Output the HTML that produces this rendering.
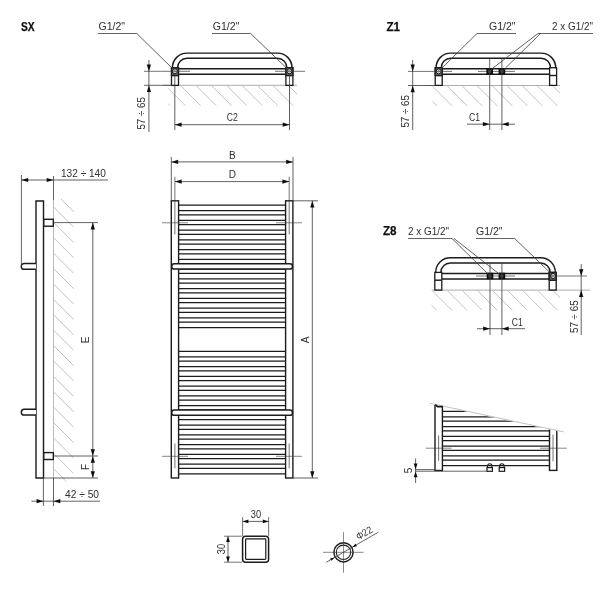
<!DOCTYPE html>
<html><head><meta charset="utf-8"><title>drawing</title>
<style>
html,body{margin:0;padding:0;background:#fff;}
body{width:616px;height:616px;overflow:hidden;font-family:"Liberation Sans",sans-serif;}
svg{display:block;font-family:"Liberation Sans",sans-serif;}
</style></head><body>
<svg width="616" height="616" viewBox="0 0 616 616">
<rect width="616" height="616" fill="#fff"/>
<defs><filter id="bl" x="0" y="0" width="616" height="616" filterUnits="userSpaceOnUse"><feGaussianBlur stdDeviation="0.35"/></filter></defs>
<g filter="url(#bl)">
<clipPath id="h1"><rect x="168.3" y="85.8" width="128.7" height="20.0"/></clipPath>
<g clip-path="url(#h1)" stroke="#b4b4b4" stroke-width="0.8">
<line x1="134.70" y1="85.8" x2="154.70" y2="105.8"/>
<line x1="150.10" y1="85.8" x2="170.10" y2="105.8"/>
<line x1="165.50" y1="85.8" x2="185.50" y2="105.8"/>
<line x1="180.90" y1="85.8" x2="200.90" y2="105.8"/>
<line x1="196.30" y1="85.8" x2="216.30" y2="105.8"/>
<line x1="211.70" y1="85.8" x2="231.70" y2="105.8"/>
<line x1="227.10" y1="85.8" x2="247.10" y2="105.8"/>
<line x1="242.50" y1="85.8" x2="262.50" y2="105.8"/>
<line x1="257.90" y1="85.8" x2="277.90" y2="105.8"/>
<line x1="273.30" y1="85.8" x2="293.30" y2="105.8"/>
<line x1="288.70" y1="85.8" x2="308.70" y2="105.8"/>
</g>
<line x1="163" y1="85.3" x2="297" y2="85.3" stroke="#999" stroke-width="0.8" />
<path d="M172.4,68.2 V67.7 A14.6,14.6 0 0 1 187.0,53.1 H277.4 A14.6,14.6 0 0 1 292.0,67.7 V68.2" fill="none" stroke="#1c1c1c" stroke-width="1.45"/>
<path d="M177.60000000000002,68.2 V67.7 A9.4,9.4 0 0 1 187.00000000000003,58.300000000000004 H277.4000000000001 A9.4,9.4 0 0 1 286.80000000000007,67.7 V68.2" fill="none" stroke="#1c1c1c" stroke-width="1.45"/>
<line x1="178.70000000000002" y1="68.8" x2="285.70000000000005" y2="68.8" stroke="#1c1c1c" stroke-width="1.45" />
<line x1="178.70000000000002" y1="74.2" x2="285.70000000000005" y2="74.2" stroke="#1c1c1c" stroke-width="1.45" />
<rect x="171.5" y="67.7" width="7.0" height="17.7" fill="none" stroke="#1c1c1c" stroke-width="1.3" rx="0"/>
<line x1="171.5" y1="75.5" x2="178.50000000000003" y2="75.5" stroke="#1c1c1c" stroke-width="1.45" />
<rect x="285.90000000000003" y="67.7" width="7.0" height="17.7" fill="none" stroke="#1c1c1c" stroke-width="1.3" rx="0"/>
<line x1="285.90000000000003" y1="75.5" x2="292.90000000000003" y2="75.5" stroke="#1c1c1c" stroke-width="1.45" />
<rect x="171.5" y="67.7" width="7.0" height="7.8" fill="#6a6a6a" stroke="#1c1c1c" stroke-width="1.3"/>
<circle cx="174.9" cy="71.3" r="2.5" fill="#e0e0e0" stroke="#111" stroke-width="1"/>
<circle cx="174.9" cy="71.3" r="0.9" fill="#fff" stroke="#666" stroke-width="0.5"/>
<rect x="285.90000000000003" y="67.7" width="7.0" height="7.8" fill="#6a6a6a" stroke="#1c1c1c" stroke-width="1.3"/>
<circle cx="289.4" cy="71.3" r="2.5" fill="#e0e0e0" stroke="#111" stroke-width="1"/>
<circle cx="289.4" cy="71.3" r="0.9" fill="#fff" stroke="#666" stroke-width="0.5"/>
<line x1="144" y1="71.3" x2="190" y2="71.3" stroke="#3a3a3a" stroke-width="0.7" />
<line x1="275" y1="71.3" x2="305" y2="71.3" stroke="#3a3a3a" stroke-width="0.7" />
<polyline points="98,33.5 136.8,33.5 172.5,68.5" fill="none" stroke="#3a3a3a" stroke-width="0.8"/>
<polyline points="212,33.5 250.6,33.5 287,68.5" fill="none" stroke="#3a3a3a" stroke-width="0.8"/>
<text x="98.5" y="29.8" font-size="10" text-anchor="start" fill="#2e2e2e" textLength="26.6" lengthAdjust="spacingAndGlyphs">G1/2"</text>
<text x="212.8" y="29.8" font-size="10" text-anchor="start" fill="#2e2e2e" textLength="26.6" lengthAdjust="spacingAndGlyphs">G1/2"</text>
<text x="21" y="30.5" font-size="12" text-anchor="start" fill="#111" font-weight="bold" stroke="#111" stroke-width="0.25" textLength="13.6" lengthAdjust="spacingAndGlyphs">SX</text>
<line x1="148.9" y1="60" x2="148.9" y2="132" stroke="#3a3a3a" stroke-width="0.8" />
<line x1="144" y1="85.3" x2="172" y2="85.3" stroke="#3a3a3a" stroke-width="0.8" />
<polygon points="148.9,71.3 146.8,64.5 151.0,64.5" fill="#111"/>
<polygon points="148.9,85.3 146.8,92.1 151.0,92.1" fill="#111"/>
<text x="145.4" y="129.6" font-size="10" text-anchor="start" fill="#2e2e2e" transform="rotate(-90 145.4 129.6)" textLength="32.6" lengthAdjust="spacingAndGlyphs">57 ÷ 65</text>
<line x1="174.8" y1="76" x2="174.8" y2="130" stroke="#3a3a3a" stroke-width="0.8" />
<line x1="289.5" y1="76" x2="289.5" y2="130" stroke="#3a3a3a" stroke-width="0.8" />
<line x1="174.8" y1="124.7" x2="289.5" y2="124.7" stroke="#3a3a3a" stroke-width="0.8" />
<polygon points="174.8,124.7 181.60000000000002,122.60000000000001 181.60000000000002,126.8" fill="#111"/>
<polygon points="289.5,124.7 282.7,122.60000000000001 282.7,126.8" fill="#111"/>
<text x="232.2" y="120.7" font-size="10" text-anchor="middle" fill="#2e2e2e" textLength="11" lengthAdjust="spacingAndGlyphs">C2</text>
<clipPath id="h2"><rect x="432.5" y="86.0" width="127.5" height="20.0"/></clipPath>
<g clip-path="url(#h2)" stroke="#b4b4b4" stroke-width="0.8">
<line x1="402.15" y1="86.0" x2="422.15" y2="106.0"/>
<line x1="417.20" y1="86.0" x2="437.20" y2="106.0"/>
<line x1="432.25" y1="86.0" x2="452.25" y2="106.0"/>
<line x1="447.30" y1="86.0" x2="467.30" y2="106.0"/>
<line x1="462.35" y1="86.0" x2="482.35" y2="106.0"/>
<line x1="477.40" y1="86.0" x2="497.40" y2="106.0"/>
<line x1="492.45" y1="86.0" x2="512.45" y2="106.0"/>
<line x1="507.50" y1="86.0" x2="527.50" y2="106.0"/>
<line x1="522.55" y1="86.0" x2="542.55" y2="106.0"/>
<line x1="537.60" y1="86.0" x2="557.60" y2="106.0"/>
<line x1="552.65" y1="86.0" x2="572.65" y2="106.0"/>
</g>
<line x1="427" y1="85.5" x2="560" y2="85.5" stroke="#999" stroke-width="0.8" />
<path d="M436.1,68.2 V67.7 A14.6,14.6 0 0 1 450.70000000000005,53.1 H541.0999999999999 A14.6,14.6 0 0 1 555.6999999999999,67.7 V68.2" fill="none" stroke="#1c1c1c" stroke-width="1.45"/>
<path d="M441.29999999999995,68.2 V67.7 A9.4,9.4 0 0 1 450.69999999999993,58.300000000000004 H541.1 A9.4,9.4 0 0 1 550.5,67.7 V68.2" fill="none" stroke="#1c1c1c" stroke-width="1.45"/>
<line x1="442.4" y1="68.8" x2="549.4" y2="68.8" stroke="#1c1c1c" stroke-width="1.45" />
<line x1="442.4" y1="74.2" x2="549.4" y2="74.2" stroke="#1c1c1c" stroke-width="1.45" />
<rect x="435.2" y="67.7" width="7.0" height="17.7" fill="none" stroke="#1c1c1c" stroke-width="1.3" rx="0"/>
<line x1="435.2" y1="75.5" x2="442.2" y2="75.5" stroke="#1c1c1c" stroke-width="1.45" />
<rect x="549.6" y="67.7" width="7.0" height="17.7" fill="none" stroke="#1c1c1c" stroke-width="1.3" rx="0"/>
<line x1="549.6" y1="75.5" x2="556.5999999999999" y2="75.5" stroke="#1c1c1c" stroke-width="1.45" />
<rect x="435.2" y="67.7" width="7.0" height="7.8" fill="#6a6a6a" stroke="#1c1c1c" stroke-width="1.3"/>
<circle cx="438.7" cy="71.4" r="2.5" fill="#e0e0e0" stroke="#111" stroke-width="1"/>
<circle cx="438.7" cy="71.4" r="0.9" fill="#fff" stroke="#666" stroke-width="0.5"/>
<line x1="408" y1="71.4" x2="452" y2="71.4" stroke="#3a3a3a" stroke-width="0.7" />
<line x1="478" y1="71.4" x2="515" y2="71.4" stroke="#3a3a3a" stroke-width="0.7" />
<rect x="487.3" y="69.0" width="4.8" height="4.8" fill="#444" stroke="#111" stroke-width="1.8" rx="0"/>
<line x1="489.7" y1="58.5" x2="489.7" y2="130" stroke="#3a3a3a" stroke-width="0.8" />
<rect x="499.5" y="69.0" width="4.8" height="4.8" fill="#444" stroke="#111" stroke-width="1.8" rx="0"/>
<line x1="501.9" y1="58.5" x2="501.9" y2="130" stroke="#3a3a3a" stroke-width="0.8" />
<line x1="412.7" y1="60" x2="412.7" y2="130" stroke="#3a3a3a" stroke-width="0.8" />
<line x1="408" y1="85.5" x2="436" y2="85.5" stroke="#3a3a3a" stroke-width="0.8" />
<polygon points="412.7,71.4 410.59999999999997,64.60000000000001 414.8,64.60000000000001" fill="#111"/>
<polygon points="412.7,85.5 410.59999999999997,92.3 414.8,92.3" fill="#111"/>
<text x="409.2" y="127.6" font-size="10" text-anchor="start" fill="#2e2e2e" transform="rotate(-90 409.2 127.6)" textLength="32.6" lengthAdjust="spacingAndGlyphs">57 ÷ 65</text>
<line x1="467" y1="124.2" x2="515" y2="124.2" stroke="#3a3a3a" stroke-width="0.8" />
<polygon points="489.7,124.2 482.9,122.10000000000001 482.9,126.3" fill="#111"/>
<polygon points="501.9,124.2 508.7,122.10000000000001 508.7,126.3" fill="#111"/>
<text x="469.1" y="121" font-size="10" text-anchor="start" fill="#2e2e2e" textLength="11" lengthAdjust="spacingAndGlyphs">C1</text>
<polyline points="516,33.5 477,33.5 441,69" fill="none" stroke="#3a3a3a" stroke-width="0.8"/>
<polyline points="593,33.5 538,33.5 491,69.5" fill="none" stroke="#3a3a3a" stroke-width="0.8"/>
<line x1="540.5" y1="33.5" x2="504" y2="69.5" stroke="#3a3a3a" stroke-width="0.8" />
<text x="489" y="30" font-size="10" text-anchor="start" fill="#2e2e2e" textLength="26.6" lengthAdjust="spacingAndGlyphs">G1/2"</text>
<text x="552" y="30" font-size="10" text-anchor="start" fill="#2e2e2e" textLength="41" lengthAdjust="spacingAndGlyphs">2 x G1/2"</text>
<text x="386.5" y="30.8" font-size="12" text-anchor="start" fill="#111" font-weight="bold" stroke="#111" stroke-width="0.25" textLength="13.6" lengthAdjust="spacingAndGlyphs">Z1</text>
<clipPath id="h3"><rect x="431.5" y="290.6" width="128.5" height="20.0"/></clipPath>
<g clip-path="url(#h3)" stroke="#b4b4b4" stroke-width="0.8">
<line x1="402.00" y1="290.6" x2="422.00" y2="310.6"/>
<line x1="417.10" y1="290.6" x2="437.10" y2="310.6"/>
<line x1="432.20" y1="290.6" x2="452.20" y2="310.6"/>
<line x1="447.30" y1="290.6" x2="467.30" y2="310.6"/>
<line x1="462.40" y1="290.6" x2="482.40" y2="310.6"/>
<line x1="477.50" y1="290.6" x2="497.50" y2="310.6"/>
<line x1="492.60" y1="290.6" x2="512.60" y2="310.6"/>
<line x1="507.70" y1="290.6" x2="527.70" y2="310.6"/>
<line x1="522.80" y1="290.6" x2="542.80" y2="310.6"/>
<line x1="537.90" y1="290.6" x2="557.90" y2="310.6"/>
<line x1="553.00" y1="290.6" x2="573.00" y2="310.6"/>
</g>
<line x1="431.7" y1="290.1" x2="590" y2="290.1" stroke="#999" stroke-width="0.8" />
<path d="M435.70000000000005,272.9 V272.4 A14.6,14.6 0 0 1 450.30000000000007,257.79999999999995 H540.6999999999999 A14.6,14.6 0 0 1 555.3,272.4 V272.9" fill="none" stroke="#1c1c1c" stroke-width="1.45"/>
<path d="M440.9,272.9 V272.4 A9.4,9.4 0 0 1 450.29999999999995,263.0 H540.7 A9.4,9.4 0 0 1 550.1,272.4 V272.9" fill="none" stroke="#1c1c1c" stroke-width="1.45"/>
<line x1="442.0" y1="273.5" x2="549.0" y2="273.5" stroke="#1c1c1c" stroke-width="1.45" />
<line x1="442.0" y1="278.9" x2="549.0" y2="278.9" stroke="#1c1c1c" stroke-width="1.45" />
<rect x="434.8" y="272.4" width="7.0" height="17.7" fill="none" stroke="#1c1c1c" stroke-width="1.3" rx="0"/>
<line x1="434.8" y1="280.2" x2="441.8" y2="280.2" stroke="#1c1c1c" stroke-width="1.45" />
<rect x="549.2" y="272.4" width="7.0" height="17.7" fill="none" stroke="#1c1c1c" stroke-width="1.3" rx="0"/>
<line x1="549.2" y1="280.2" x2="556.1999999999999" y2="280.2" stroke="#1c1c1c" stroke-width="1.45" />
<rect x="549.2" y="272.4" width="7.0" height="7.8" fill="#6a6a6a" stroke="#1c1c1c" stroke-width="1.3"/>
<circle cx="553.1" cy="276" r="2.5" fill="#e0e0e0" stroke="#111" stroke-width="1"/>
<circle cx="553.1" cy="276" r="0.9" fill="#fff" stroke="#666" stroke-width="0.5"/>
<line x1="476" y1="276" x2="515" y2="276" stroke="#3a3a3a" stroke-width="0.7" />
<line x1="548" y1="276" x2="587" y2="276" stroke="#3a3a3a" stroke-width="0.7" />
<rect x="487.6" y="273.6" width="4.8" height="4.8" fill="#444" stroke="#111" stroke-width="1.8" rx="0"/>
<line x1="490" y1="263" x2="490" y2="335" stroke="#3a3a3a" stroke-width="0.8" />
<rect x="499.5" y="273.6" width="4.8" height="4.8" fill="#444" stroke="#111" stroke-width="1.8" rx="0"/>
<line x1="501.9" y1="263" x2="501.9" y2="335" stroke="#3a3a3a" stroke-width="0.8" />
<line x1="581.2" y1="264" x2="581.2" y2="335" stroke="#3a3a3a" stroke-width="0.8" />
<polygon points="581.2,276 579.1,269.2 583.3000000000001,269.2" fill="#111"/>
<polygon points="581.2,290.1 579.1,296.90000000000003 583.3000000000001,296.90000000000003" fill="#111"/>
<text x="578" y="333" font-size="10" text-anchor="start" fill="#2e2e2e" transform="rotate(-90 578 333)" textLength="32.6" lengthAdjust="spacingAndGlyphs">57 ÷ 65</text>
<line x1="477" y1="328.7" x2="525" y2="328.7" stroke="#3a3a3a" stroke-width="0.8" />
<polygon points="490,328.7 483.2,326.59999999999997 483.2,330.8" fill="#111"/>
<polygon points="501.9,328.7 508.7,326.59999999999997 508.7,330.8" fill="#111"/>
<text x="511.7" y="325.5" font-size="10" text-anchor="start" fill="#2e2e2e" textLength="11" lengthAdjust="spacingAndGlyphs">C1</text>
<polyline points="408,238.5 452,238.5 489,275" fill="none" stroke="#3a3a3a" stroke-width="0.8"/>
<line x1="454" y1="238.5" x2="500.5" y2="275" stroke="#3a3a3a" stroke-width="0.8" />
<polyline points="476,238.5 514.7,238.5 551.5,274" fill="none" stroke="#3a3a3a" stroke-width="0.8"/>
<text x="408" y="234.5" font-size="10" text-anchor="start" fill="#2e2e2e" textLength="41" lengthAdjust="spacingAndGlyphs">2 x G1/2"</text>
<text x="476" y="234.5" font-size="10" text-anchor="start" fill="#2e2e2e" textLength="26.6" lengthAdjust="spacingAndGlyphs">G1/2"</text>
<text x="383" y="235.3" font-size="12" text-anchor="start" fill="#111" font-weight="bold" stroke="#111" stroke-width="0.25" textLength="13.6" lengthAdjust="spacingAndGlyphs">Z8</text>
<clipPath id="h4"><rect x="53.5" y="199" width="20.3" height="282.6"/></clipPath>
<g clip-path="url(#h4)" stroke="#b4b4b4" stroke-width="0.8">
<line x1="53.5" y1="191.50" x2="73.8" y2="211.80"/>
<line x1="53.5" y1="206.90" x2="73.8" y2="227.20"/>
<line x1="53.5" y1="222.30" x2="73.8" y2="242.60"/>
<line x1="53.5" y1="237.70" x2="73.8" y2="258.00"/>
<line x1="53.5" y1="253.10" x2="73.8" y2="273.40"/>
<line x1="53.5" y1="268.50" x2="73.8" y2="288.80"/>
<line x1="53.5" y1="283.90" x2="73.8" y2="304.20"/>
<line x1="53.5" y1="299.30" x2="73.8" y2="319.60"/>
<line x1="53.5" y1="314.70" x2="73.8" y2="335.00"/>
<line x1="53.5" y1="330.10" x2="73.8" y2="350.40"/>
<line x1="53.5" y1="345.50" x2="73.8" y2="365.80"/>
<line x1="53.5" y1="360.90" x2="73.8" y2="381.20"/>
<line x1="53.5" y1="376.30" x2="73.8" y2="396.60"/>
<line x1="53.5" y1="391.70" x2="73.8" y2="412.00"/>
<line x1="53.5" y1="407.10" x2="73.8" y2="427.40"/>
<line x1="53.5" y1="422.50" x2="73.8" y2="442.80"/>
<line x1="53.5" y1="437.90" x2="73.8" y2="458.20"/>
<line x1="53.5" y1="453.30" x2="73.8" y2="473.60"/>
<line x1="53.5" y1="468.70" x2="73.8" y2="489.00"/>
</g>
<line x1="53.5" y1="176" x2="53.5" y2="200" stroke="#3a3a3a" stroke-width="0.8" />
<line x1="53.5" y1="200" x2="53.5" y2="478" stroke="#aaa" stroke-width="0.8" />
<line x1="53.5" y1="478" x2="53.5" y2="506" stroke="#3a3a3a" stroke-width="0.8" />
<path d="M36,478 V201 H43.5 V478 Z" fill="#fff" stroke="#1c1c1c" stroke-width="1.4"/>
<rect x="43.8" y="219.3" width="9.5" height="6.9" fill="#fff" stroke="#1c1c1c" stroke-width="1.4" rx="0"/>
<rect x="43.8" y="452.6" width="9.5" height="6.9" fill="#fff" stroke="#1c1c1c" stroke-width="1.4" rx="0"/>
<path d="M36,263.5 H24.2 a2.9,2.9 0 0 0 0,5.8 H36" fill="#fff" stroke="#1c1c1c" stroke-width="1.45"/>
<path d="M36,409.3 H24.2 a2.9,2.9 0 0 0 0,5.8 H36" fill="#fff" stroke="#1c1c1c" stroke-width="1.45"/>
<line x1="21.4" y1="175" x2="21.4" y2="266" stroke="#3a3a3a" stroke-width="0.8" />
<line x1="21.4" y1="180" x2="108" y2="180" stroke="#3a3a3a" stroke-width="0.8" />
<polygon points="21.4,180 28.2,177.9 28.2,182.1" fill="#111"/>
<polygon points="53.5,180 46.7,177.9 46.7,182.1" fill="#111"/>
<text x="61" y="177" font-size="10" text-anchor="start" fill="#2e2e2e" textLength="44.8" lengthAdjust="spacingAndGlyphs">132 ÷ 140</text>
<line x1="53.5" y1="222.6" x2="98" y2="222.6" stroke="#3a3a3a" stroke-width="0.8" />
<line x1="53.5" y1="456" x2="98" y2="456" stroke="#3a3a3a" stroke-width="0.8" />
<line x1="43.5" y1="478" x2="98" y2="478" stroke="#3a3a3a" stroke-width="0.8" />
<line x1="92.8" y1="222.6" x2="92.8" y2="478" stroke="#3a3a3a" stroke-width="0.8" />
<polygon points="92.8,222.6 90.7,229.4 94.89999999999999,229.4" fill="#111"/>
<polygon points="92.8,456 90.7,449.2 94.89999999999999,449.2" fill="#111"/>
<polygon points="92.8,456 90.7,462.8 94.89999999999999,462.8" fill="#111"/>
<polygon points="92.8,478 90.7,471.2 94.89999999999999,471.2" fill="#111"/>
<text x="89" y="340" font-size="10" text-anchor="middle" fill="#2e2e2e" transform="rotate(-90 89 340)">E</text>
<text x="89" y="467" font-size="10" text-anchor="middle" fill="#2e2e2e" transform="rotate(-90 89 467)">F</text>
<line x1="43.4" y1="478" x2="43.4" y2="506" stroke="#3a3a3a" stroke-width="0.8" />
<line x1="31.4" y1="501.2" x2="100" y2="501.2" stroke="#3a3a3a" stroke-width="0.8" />
<polygon points="43.4,501.2 36.6,499.09999999999997 36.6,503.3" fill="#111"/>
<polygon points="53.5,501.2 60.3,499.09999999999997 60.3,503.3" fill="#111"/>
<text x="65" y="497.6" font-size="10" text-anchor="start" fill="#2e2e2e" textLength="34" lengthAdjust="spacingAndGlyphs">42 ÷ 50</text>
<line x1="178.60000000000002" y1="205.2" x2="285.59999999999997" y2="205.2" stroke="#1c1c1c" stroke-width="1.25" />
<line x1="178.60000000000002" y1="210.54999999999998" x2="285.59999999999997" y2="210.54999999999998" stroke="#1c1c1c" stroke-width="1.25" />
<line x1="178.60000000000002" y1="214.95" x2="285.59999999999997" y2="214.95" stroke="#1c1c1c" stroke-width="1.25" />
<line x1="178.60000000000002" y1="220.29999999999998" x2="285.59999999999997" y2="220.29999999999998" stroke="#1c1c1c" stroke-width="1.25" />
<line x1="178.60000000000002" y1="224.7" x2="285.59999999999997" y2="224.7" stroke="#1c1c1c" stroke-width="1.25" />
<line x1="178.60000000000002" y1="230.04999999999998" x2="285.59999999999997" y2="230.04999999999998" stroke="#1c1c1c" stroke-width="1.25" />
<line x1="178.60000000000002" y1="234.45" x2="285.59999999999997" y2="234.45" stroke="#1c1c1c" stroke-width="1.25" />
<line x1="178.60000000000002" y1="239.79999999999998" x2="285.59999999999997" y2="239.79999999999998" stroke="#1c1c1c" stroke-width="1.25" />
<line x1="178.60000000000002" y1="244.2" x2="285.59999999999997" y2="244.2" stroke="#1c1c1c" stroke-width="1.25" />
<line x1="178.60000000000002" y1="249.54999999999998" x2="285.59999999999997" y2="249.54999999999998" stroke="#1c1c1c" stroke-width="1.25" />
<line x1="178.60000000000002" y1="253.95" x2="285.59999999999997" y2="253.95" stroke="#1c1c1c" stroke-width="1.25" />
<line x1="178.60000000000002" y1="259.3" x2="285.59999999999997" y2="259.3" stroke="#1c1c1c" stroke-width="1.25" />
<line x1="178.60000000000002" y1="263.7" x2="285.59999999999997" y2="263.7" stroke="#1c1c1c" stroke-width="1.25" />
<line x1="178.60000000000002" y1="269.05" x2="285.59999999999997" y2="269.05" stroke="#1c1c1c" stroke-width="1.25" />
<line x1="178.60000000000002" y1="273.45" x2="285.59999999999997" y2="273.45" stroke="#1c1c1c" stroke-width="1.25" />
<line x1="178.60000000000002" y1="278.8" x2="285.59999999999997" y2="278.8" stroke="#1c1c1c" stroke-width="1.25" />
<line x1="178.60000000000002" y1="283.2" x2="285.59999999999997" y2="283.2" stroke="#1c1c1c" stroke-width="1.25" />
<line x1="178.60000000000002" y1="288.55" x2="285.59999999999997" y2="288.55" stroke="#1c1c1c" stroke-width="1.25" />
<line x1="178.60000000000002" y1="292.95" x2="285.59999999999997" y2="292.95" stroke="#1c1c1c" stroke-width="1.25" />
<line x1="178.60000000000002" y1="298.3" x2="285.59999999999997" y2="298.3" stroke="#1c1c1c" stroke-width="1.25" />
<line x1="178.60000000000002" y1="302.7" x2="285.59999999999997" y2="302.7" stroke="#1c1c1c" stroke-width="1.25" />
<line x1="178.60000000000002" y1="308.05" x2="285.59999999999997" y2="308.05" stroke="#1c1c1c" stroke-width="1.25" />
<line x1="178.60000000000002" y1="312.45" x2="285.59999999999997" y2="312.45" stroke="#1c1c1c" stroke-width="1.25" />
<line x1="178.60000000000002" y1="317.8" x2="285.59999999999997" y2="317.8" stroke="#1c1c1c" stroke-width="1.25" />
<line x1="178.60000000000002" y1="322.2" x2="285.59999999999997" y2="322.2" stroke="#1c1c1c" stroke-width="1.25" />
<line x1="178.60000000000002" y1="327.55" x2="285.59999999999997" y2="327.55" stroke="#1c1c1c" stroke-width="1.25" />
<line x1="178.60000000000002" y1="351.45" x2="285.59999999999997" y2="351.45" stroke="#1c1c1c" stroke-width="1.25" />
<line x1="178.60000000000002" y1="356.8" x2="285.59999999999997" y2="356.8" stroke="#1c1c1c" stroke-width="1.25" />
<line x1="178.60000000000002" y1="361.2" x2="285.59999999999997" y2="361.2" stroke="#1c1c1c" stroke-width="1.25" />
<line x1="178.60000000000002" y1="366.55" x2="285.59999999999997" y2="366.55" stroke="#1c1c1c" stroke-width="1.25" />
<line x1="178.60000000000002" y1="370.95" x2="285.59999999999997" y2="370.95" stroke="#1c1c1c" stroke-width="1.25" />
<line x1="178.60000000000002" y1="376.3" x2="285.59999999999997" y2="376.3" stroke="#1c1c1c" stroke-width="1.25" />
<line x1="178.60000000000002" y1="380.7" x2="285.59999999999997" y2="380.7" stroke="#1c1c1c" stroke-width="1.25" />
<line x1="178.60000000000002" y1="386.05" x2="285.59999999999997" y2="386.05" stroke="#1c1c1c" stroke-width="1.25" />
<line x1="178.60000000000002" y1="390.45" x2="285.59999999999997" y2="390.45" stroke="#1c1c1c" stroke-width="1.25" />
<line x1="178.60000000000002" y1="395.8" x2="285.59999999999997" y2="395.8" stroke="#1c1c1c" stroke-width="1.25" />
<line x1="178.60000000000002" y1="400.2" x2="285.59999999999997" y2="400.2" stroke="#1c1c1c" stroke-width="1.25" />
<line x1="178.60000000000002" y1="405.55" x2="285.59999999999997" y2="405.55" stroke="#1c1c1c" stroke-width="1.25" />
<line x1="178.60000000000002" y1="409.95" x2="285.59999999999997" y2="409.95" stroke="#1c1c1c" stroke-width="1.25" />
<line x1="178.60000000000002" y1="415.3" x2="285.59999999999997" y2="415.3" stroke="#1c1c1c" stroke-width="1.25" />
<line x1="178.60000000000002" y1="419.7" x2="285.59999999999997" y2="419.7" stroke="#1c1c1c" stroke-width="1.25" />
<line x1="178.60000000000002" y1="425.05" x2="285.59999999999997" y2="425.05" stroke="#1c1c1c" stroke-width="1.25" />
<line x1="178.60000000000002" y1="429.45" x2="285.59999999999997" y2="429.45" stroke="#1c1c1c" stroke-width="1.25" />
<line x1="178.60000000000002" y1="434.8" x2="285.59999999999997" y2="434.8" stroke="#1c1c1c" stroke-width="1.25" />
<line x1="178.60000000000002" y1="439.2" x2="285.59999999999997" y2="439.2" stroke="#1c1c1c" stroke-width="1.25" />
<line x1="178.60000000000002" y1="444.55" x2="285.59999999999997" y2="444.55" stroke="#1c1c1c" stroke-width="1.25" />
<line x1="178.60000000000002" y1="448.95" x2="285.59999999999997" y2="448.95" stroke="#1c1c1c" stroke-width="1.25" />
<line x1="178.60000000000002" y1="454.3" x2="285.59999999999997" y2="454.3" stroke="#1c1c1c" stroke-width="1.25" />
<line x1="178.60000000000002" y1="458.7" x2="285.59999999999997" y2="458.7" stroke="#1c1c1c" stroke-width="1.25" />
<line x1="178.60000000000002" y1="464.05" x2="285.59999999999997" y2="464.05" stroke="#1c1c1c" stroke-width="1.25" />
<line x1="178.60000000000002" y1="468.45" x2="285.59999999999997" y2="468.45" stroke="#1c1c1c" stroke-width="1.25" />
<line x1="178.60000000000002" y1="473.8" x2="285.59999999999997" y2="473.8" stroke="#1c1c1c" stroke-width="1.25" />
<rect x="171.3" y="200.8" width="7.3" height="277.2" fill="none" stroke="#1c1c1c" stroke-width="1.4" rx="0"/>
<rect x="285.59999999999997" y="200.8" width="7.3" height="277.2" fill="none" stroke="#1c1c1c" stroke-width="1.4" rx="0"/>
<rect x="171.70000000000002" y="263.7" width="120.79999999999997" height="5.35" rx="2.7" fill="#fff" stroke="#1c1c1c" stroke-width="1.5"/>
<rect x="171.70000000000002" y="409.95" width="120.79999999999997" height="5.35" rx="2.7" fill="#fff" stroke="#1c1c1c" stroke-width="1.5"/>
<line x1="162" y1="222.8" x2="188" y2="222.8" stroke="#3a3a3a" stroke-width="0.6" />
<line x1="276" y1="222.8" x2="302" y2="222.8" stroke="#3a3a3a" stroke-width="0.6" />
<line x1="162" y1="456.3" x2="188" y2="456.3" stroke="#3a3a3a" stroke-width="0.6" />
<line x1="276" y1="456.3" x2="302" y2="456.3" stroke="#3a3a3a" stroke-width="0.6" />
<line x1="174.9" y1="176.8" x2="174.9" y2="234.5" stroke="#3a3a3a" stroke-width="0.7" />
<line x1="289.2" y1="176.8" x2="289.2" y2="234.5" stroke="#3a3a3a" stroke-width="0.7" />
<line x1="174.9" y1="443.5" x2="174.9" y2="468.3" stroke="#3a3a3a" stroke-width="0.7" />
<line x1="289.2" y1="443.5" x2="289.2" y2="468.3" stroke="#3a3a3a" stroke-width="0.7" />
<line x1="171.3" y1="157" x2="171.3" y2="200.8" stroke="#3a3a3a" stroke-width="0.8" />
<line x1="293" y1="157" x2="293" y2="200.8" stroke="#3a3a3a" stroke-width="0.8" />
<line x1="171.3" y1="161.9" x2="293" y2="161.9" stroke="#3a3a3a" stroke-width="0.8" />
<polygon points="171.3,161.9 178.10000000000002,159.8 178.10000000000002,164.0" fill="#111"/>
<polygon points="293,161.9 286.2,159.8 286.2,164.0" fill="#111"/>
<text x="232.3" y="158.6" font-size="10" text-anchor="middle" fill="#2e2e2e">B</text>
<line x1="174.9" y1="181.6" x2="289.2" y2="181.6" stroke="#3a3a3a" stroke-width="0.8" />
<polygon points="174.9,181.6 181.70000000000002,179.5 181.70000000000002,183.7" fill="#111"/>
<polygon points="289.2,181.6 282.4,179.5 282.4,183.7" fill="#111"/>
<text x="232.3" y="178" font-size="10" text-anchor="middle" fill="#2e2e2e">D</text>
<line x1="293" y1="200.8" x2="318" y2="200.8" stroke="#3a3a3a" stroke-width="0.8" />
<line x1="293" y1="478" x2="318" y2="478" stroke="#3a3a3a" stroke-width="0.8" />
<line x1="312.3" y1="200.8" x2="312.3" y2="478" stroke="#3a3a3a" stroke-width="0.8" />
<polygon points="312.3,200.8 310.2,207.60000000000002 314.40000000000003,207.60000000000002" fill="#111"/>
<polygon points="312.3,478 310.2,471.2 314.40000000000003,471.2" fill="#111"/>
<text x="308.5" y="340" font-size="10" text-anchor="middle" fill="#2e2e2e" transform="rotate(-90 308.5 340)">A</text>
<clipPath id="cb"><polygon points="429.5,403.8 569.5,433.76 570,480 420,480"/></clipPath>
<g clip-path="url(#cb)">
<line x1="442.5" y1="411.4" x2="549.5" y2="411.4" stroke="#1c1c1c" stroke-width="1.25" />
<line x1="442.5" y1="416.75" x2="549.5" y2="416.75" stroke="#1c1c1c" stroke-width="1.25" />
<line x1="442.5" y1="421.15" x2="549.5" y2="421.15" stroke="#1c1c1c" stroke-width="1.25" />
<line x1="442.5" y1="426.5" x2="549.5" y2="426.5" stroke="#1c1c1c" stroke-width="1.25" />
<line x1="442.5" y1="430.9" x2="549.5" y2="430.9" stroke="#1c1c1c" stroke-width="1.25" />
<line x1="442.5" y1="436.25" x2="549.5" y2="436.25" stroke="#1c1c1c" stroke-width="1.25" />
<line x1="442.5" y1="440.65" x2="549.5" y2="440.65" stroke="#1c1c1c" stroke-width="1.25" />
<line x1="442.5" y1="446.0" x2="549.5" y2="446.0" stroke="#1c1c1c" stroke-width="1.25" />
<line x1="442.5" y1="450.4" x2="549.5" y2="450.4" stroke="#1c1c1c" stroke-width="1.25" />
<line x1="442.5" y1="455.75" x2="549.5" y2="455.75" stroke="#1c1c1c" stroke-width="1.25" />
<line x1="442.5" y1="460.15" x2="549.5" y2="460.15" stroke="#1c1c1c" stroke-width="1.25" />
<line x1="442.5" y1="465.5" x2="549.5" y2="465.5" stroke="#1c1c1c" stroke-width="1.25" />
<rect x="435" y="402" width="7.4" height="68.5" fill="none" stroke="#1c1c1c" stroke-width="1.4" rx="0"/>
<rect x="549.5" y="425" width="7.3" height="45.4" fill="none" stroke="#1c1c1c" stroke-width="1.4" rx="0"/>
</g>
<line x1="429.5" y1="403.2" x2="563.6" y2="431.9" stroke="#999" stroke-width="0.6" />
<path d="M435.2,404.6 L437.6,406.7 L443,406.7" fill="none" stroke="#1c1c1c" stroke-width="1.8"/>
<line x1="425.6" y1="448.2" x2="451.6" y2="448.2" stroke="#3a3a3a" stroke-width="0.6" />
<line x1="438.6" y1="435.5" x2="438.6" y2="460.8" stroke="#3a3a3a" stroke-width="0.7" />
<line x1="540" y1="448.2" x2="566.8" y2="448.2" stroke="#3a3a3a" stroke-width="0.6" />
<line x1="553" y1="434.6" x2="553" y2="461.4" stroke="#3a3a3a" stroke-width="0.7" />
<path d="M487.5,467.6 V466 a2.2,2.2 0 0 1 4.4,0 V467.6" fill="none" stroke="#1c1c1c" stroke-width="1.1"/>
<rect x="487.0" y="467.6" width="5.4" height="3.7" fill="#fff" stroke="#1c1c1c" stroke-width="1.2" rx="0"/>
<path d="M499.7,467.6 V466 a2.2,2.2 0 0 1 4.4,0 V467.6" fill="none" stroke="#1c1c1c" stroke-width="1.1"/>
<rect x="499.2" y="467.6" width="5.4" height="3.7" fill="#fff" stroke="#1c1c1c" stroke-width="1.2" rx="0"/>
<line x1="415.6" y1="469.6" x2="435" y2="469.6" stroke="#3a3a3a" stroke-width="0.8" />
<line x1="415.6" y1="471.2" x2="487" y2="471.2" stroke="#3a3a3a" stroke-width="0.8" />
<line x1="415.6" y1="458.5" x2="415.6" y2="483" stroke="#3a3a3a" stroke-width="0.8" />
<polygon points="415.6,469.4 413.70000000000005,463.59999999999997 417.5,463.59999999999997" fill="#111"/>
<polygon points="415.6,471.4 413.70000000000005,477.2 417.5,477.2" fill="#111"/>
<text x="412.5" y="470.4" font-size="10" text-anchor="middle" fill="#2e2e2e" transform="rotate(-90 412.5 470.4)">5</text>
<rect x="242.6" y="536.2" width="26" height="26" fill="none" stroke="#1c1c1c" stroke-width="1.5" rx="3"/>
<rect x="245.6" y="538.9" width="20.2" height="20.5" fill="none" stroke="#1c1c1c" stroke-width="1.2" rx="0.8"/>
<line x1="242.6" y1="517" x2="242.6" y2="536" stroke="#3a3a3a" stroke-width="0.7" />
<line x1="268.6" y1="517" x2="268.6" y2="536" stroke="#3a3a3a" stroke-width="0.7" />
<line x1="242.6" y1="521.4" x2="268.6" y2="521.4" stroke="#3a3a3a" stroke-width="0.8" />
<polygon points="242.6,521.4 248.4,519.5 248.4,523.3" fill="#111"/>
<polygon points="268.6,521.4 262.8,519.5 262.8,523.3" fill="#111"/>
<text x="256" y="518.3" font-size="10" text-anchor="middle" fill="#2e2e2e" textLength="10.3" lengthAdjust="spacingAndGlyphs">30</text>
<line x1="224" y1="536.2" x2="242" y2="536.2" stroke="#3a3a3a" stroke-width="0.7" />
<line x1="224" y1="562.2" x2="242" y2="562.2" stroke="#3a3a3a" stroke-width="0.7" />
<line x1="228" y1="536.2" x2="228" y2="562.2" stroke="#3a3a3a" stroke-width="0.8" />
<polygon points="228,536.2 226.1,542.0 229.9,542.0" fill="#111"/>
<polygon points="228,562.2 226.1,556.4000000000001 229.9,556.4000000000001" fill="#111"/>
<text x="224.7" y="549" font-size="10" text-anchor="middle" fill="#2e2e2e" transform="rotate(-90 224.7 549)" textLength="10.3" lengthAdjust="spacingAndGlyphs">30</text>
<circle cx="343.5" cy="552.3" r="9.6" fill="none" stroke="#1c1c1c" stroke-width="1.5"/>
<circle cx="343.5" cy="552.3" r="7.2" fill="none" stroke="#1c1c1c" stroke-width="1.1"/>
<line x1="323" y1="552.3" x2="363.6" y2="552.3" stroke="#3a3a3a" stroke-width="0.6" />
<line x1="343.5" y1="532.2" x2="343.5" y2="572.7" stroke="#3a3a3a" stroke-width="0.6" />
<g transform="rotate(-30 343.5 552.3)">
<line x1="323.5" y1="552.3" x2="383.5" y2="552.3" stroke="#3a3a3a" stroke-width="0.7" />
<polygon points="333.3,552.3 328.8,550.9 328.8,553.6999999999999" fill="#111"/>
<polygon points="353.7,552.3 358.2,550.9 358.2,553.6999999999999" fill="#111"/>
<text x="362.5" y="549.3" font-size="10" text-anchor="start" fill="#2e2e2e" textLength="17" lengthAdjust="spacingAndGlyphs">Φ22</text>
</g>
</g></svg></body></html>
